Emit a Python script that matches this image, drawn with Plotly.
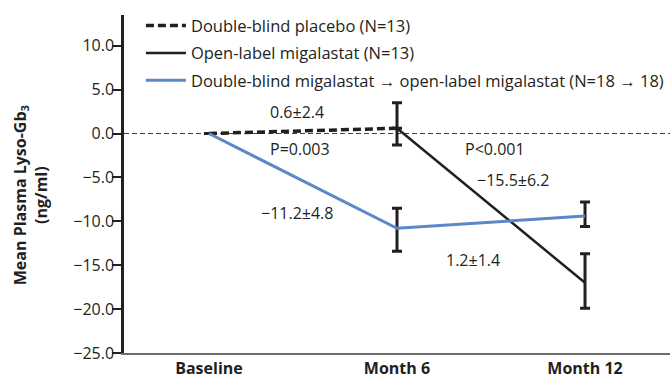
import plotly.graph_objects as go

# ---- data ----
timepoints = ["Baseline", "Month 6", "Month 12"]

placebo_x = ["Baseline", "Month 6"]
placebo_y = [0.0, 0.6]
placebo_err_plus = [None, 2.9]
placebo_err_minus = [None, 1.9]

openlabel_x = ["Month 6", "Month 12"]
openlabel_y = [0.6, -17.0]
openlabel_err_plus = [None, 3.3]
openlabel_err_minus = [None, 2.9]

migalastat_x = ["Baseline", "Month 6", "Month 12"]
migalastat_y = [0.0, -10.8, -9.4]
migalastat_err_plus = [None, 2.3, 1.6]
migalastat_err_minus = [None, 2.6, 1.2]

y_tickvals = [10, 5, 0, -5, -10, -15, -20, -25]
y_ticktext = ["10.0", "5.0", "0.0", "\u22125.0", "\u221210.0", "\u221215.0", "\u221220.0", "\u221225.0"]

names = [
    "Double-blind placebo (N=13)",
    "Open-label migalastat (N=13)",
    "Double-blind migalastat \u2192 open-label migalastat (N=18 \u2192 18)",
]

labels = ["0.6\u00b12.4", "P=0.003", "P<0.001", "\u221215.5\u00b16.2", "\u221211.2\u00b14.8", "1.2\u00b11.4"]

# ---- style ----
DARK = "#231f20"
BLUE = "#5b88c6"
FONT = "Open Sans"

fig = go.Figure()

def err(plus, minus):
    return dict(type="data", symmetric=False, array=plus, arrayminus=minus,
                color=DARK, thickness=3, width=5)

fig.add_trace(go.Scatter(
    x=placebo_x, y=placebo_y, mode="lines", name=names[0], legendgroup="a",
    line=dict(color=DARK, width=3.5, dash="8px,4px"),
    error_y=err(placebo_err_plus, placebo_err_minus),
))
fig.add_trace(go.Scatter(
    x=openlabel_x, y=openlabel_y, mode="lines", name=names[1], legendgroup="b",
    line=dict(color=DARK, width=2.5),
    error_y=err(openlabel_err_plus, openlabel_err_minus),
))
fig.add_trace(go.Scatter(
    x=migalastat_x, y=migalastat_y, mode="lines", name=names[2], legendgroup="c",
    line=dict(color=BLUE, width=3),
    error_y=err(migalastat_err_plus, migalastat_err_minus),
))

# zero reference line
fig.add_shape(type="line", xref="paper", x0=0, x1=1, yref="y", y0=0, y1=0,
              line=dict(color="#444", width=1.2, dash="5px,3px"), layer="below")

ann_pos = [(0.468, 2.4), (0.484, -1.75), (1.521, -1.75), (1.617, -5.3), (0.468, -9.1), (1.404, -14.4)]
for t, (ax, ay) in zip(labels, ann_pos):
    fig.add_annotation(x=ax, y=ay, xref="x", yref="y", text=t, showarrow=False,
                       font=dict(family=FONT, size=16, color=DARK))

fig.add_annotation(xref="paper", yref="paper", x=-0.172, y=0.467,
                   xanchor="center", yanchor="middle",
                   text="<b>Mean Plasma Lyso-Gb<sub>3</sub><br>(ng/ml)</b>",
                   textangle=-90, showarrow=False,
                   font=dict(family=FONT, size=16, color=DARK))

fig.update_layout(
    width=670, height=379,
    margin=dict(l=124, r=0, t=15, b=26, autoexpand=False),
    paper_bgcolor="white", plot_bgcolor="white",
    font=dict(family=FONT, size=16, color=DARK),
    showlegend=True,
    legend=dict(x=0.031, y=1.02, xanchor="left", yanchor="top",
                bgcolor="rgba(0,0,0,0)", tracegroupgap=3,
                font=dict(family=FONT, size=16.5, color=DARK),
                itemwidth=40),
    xaxis=dict(type="category", categoryorder="array", categoryarray=timepoints,
               range=[-0.452, 2.452], showgrid=False, zeroline=False,
               showline=True, linecolor="#6d6d6d", linewidth=2, ticks="",
               automargin=False,
               tickfont=dict(family=FONT, size=16, color=DARK),
               tickvals=timepoints, ticktext=["<b>%s</b>" % t for t in timepoints]),
    yaxis=dict(range=[-25, 13.5], showgrid=False, zeroline=False,
               showline=True, linecolor=DARK, linewidth=2.5, automargin=False,
               ticks="outside", ticklen=9, tickwidth=2, tickcolor=DARK,
               ticklabelstandoff=-5,
               tickvals=y_tickvals, ticktext=y_ticktext,
               tickfont=dict(family=FONT, size=16, color=DARK)),
)

fig.write_html("out.html", config={"displayModeBar": False},
               post_script="document.body.style.margin='0px';document.body.style.overflow='hidden';")
